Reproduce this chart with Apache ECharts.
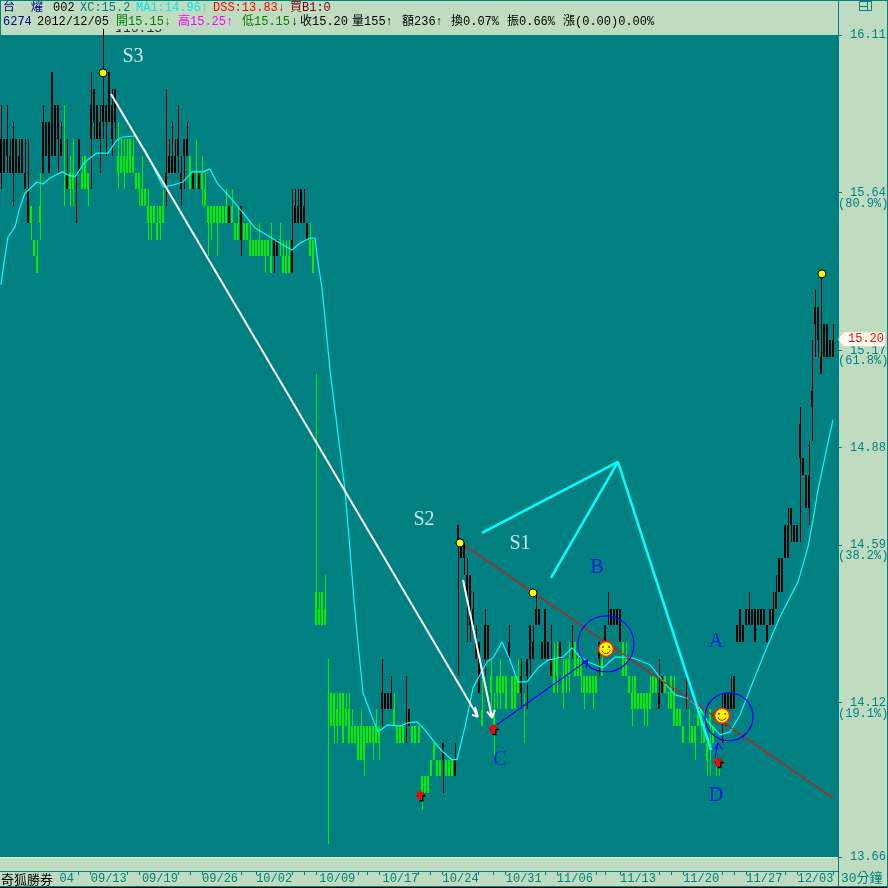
<!DOCTYPE html>
<html><head><meta charset="utf-8">
<style>html,body{margin:0;padding:0;background:#C0DCC0;}#c{width:888px;height:888px;}</style>
<script src="https://cdn.jsdelivr.net/npm/echarts@6/dist/echarts.min.js"></script>
</head><body><div id="c"></div>
<script>
// ---- price bars, each row [open, close, low, high]
const barsA = [
[15.70,15.80,15.65,15.90],[15.70,15.80,15.70,15.80],[15.75,15.80,15.70,15.90],[15.70,15.75,15.70,15.80],[15.70,15.80,15.60,15.85],[15.70,15.80,15.70,15.80],[15.70,15.75,15.70,15.80],[15.70,15.80,15.70,15.80],[15.65,15.70,15.65,15.80],[15.55,15.65,15.55,15.80],
[15.60,15.55,15.50,15.60],[15.50,15.45,15.45,15.50],[15.45,15.40,15.40,15.50],[15.60,15.55,15.50,15.70],[15.70,15.85,15.70,15.90],[15.75,15.85,15.75,15.85],[15.70,15.85,15.70,15.85],[15.75,16.00,15.75,16.00],[15.75,15.90,15.75,15.90],[15.80,15.90,15.70,15.90],
[15.75,15.80,15.75,15.85],[15.651,15.65,15.60,15.90],[15.65,15.70,15.65,15.80],[15.70,15.65,15.60,15.75],[15.70,15.65,15.60,15.80],[15.60,15.601,15.55,15.70],[15.70,15.80,15.70,15.80],[15.70,15.65,15.65,15.75],[15.75,15.65,15.65,15.75],[15.70,15.65,15.60,15.70],
[15.80,15.90,15.65,16.00],[15.85,15.95,15.80,15.95],[15.80,15.90,15.80,15.90],[15.80,15.85,15.70,15.90],[15.85,15.90,15.80,16.15],[15.85,15.90,15.75,15.90],[15.85,16.00,15.85,16.00],[15.80,15.90,15.75,15.95],[15.85,15.95,15.80,15.95],[15.75,15.70,15.65,15.85]];
const barsB = [
[15.75,15.70,15.70,15.80],[15.75,15.70,15.65,15.80],[15.75,15.70,15.70,15.80],[15.80,15.70,15.70,15.80],[15.75,15.70,15.70,15.80],[15.70,15.65,15.65,15.70],[15.70,15.65,15.60,15.70],[15.65,15.60,15.60,15.75],[15.65,15.60,15.60,15.65],[15.60,15.55,15.50,15.65],
[15.60,15.55,15.50,15.60],[15.60,15.55,15.55,15.60],[15.55,15.50,15.50,15.60],[15.60,15.55,15.50,15.60],[15.60,15.55,15.55,15.65],[15.65,15.70,15.60,15.95],[15.70,15.75,15.70,15.80],[15.70,15.75,15.70,15.85],[15.70,15.75,15.70,15.80],[15.75,15.80,15.70,15.90],
[15.65,15.70,15.60,15.75],[15.75,15.80,15.65,15.80],[15.75,15.80,15.75,15.85],[15.75,15.65,15.65,15.75],[15.65,15.70,15.65,15.70],[15.701,15.70,15.65,15.80],[15.65,15.70,15.65,15.70],[15.70,15.65,15.60,15.75],[15.65,15.60,15.60,15.70],[15.60,15.55,15.45,15.60],
[15.60,15.55,15.50,15.60],[15.60,15.55,15.55,15.60],[15.60,15.55,15.45,15.60],[15.60,15.55,15.55,15.60],[15.60,15.55,15.55,15.60],[15.60,15.55,15.55,15.65],[15.55,15.60,15.55,15.60],[15.60,15.55,15.55,15.65],[15.55,15.50,15.50,15.55],[15.55,15.50,15.50,15.60]];
const barsC = [
[15.50,15.60,15.45,15.60],[15.55,15.50,15.50,15.55],[15.55,15.50,15.50,15.55],[15.50,15.45,15.45,15.55],[15.50,15.45,15.45,15.50],[15.50,15.45,15.45,15.50],[15.50,15.45,15.45,15.55],[15.50,15.45,15.45,15.50],[15.50,15.45,15.40,15.50],[15.50,15.45,15.45,15.50],
[15.45,15.40,15.40,15.55],[15.45,15.50,15.40,15.50],[15.45,15.50,15.45,15.50],[15.501,15.50,15.45,15.55],[15.45,15.40,15.40,15.50],[15.45,15.40,15.40,15.50],[15.45,15.40,15.40,15.50],[15.40,15.50,15.40,15.65],[15.55,15.60,15.55,15.65],[15.55,15.60,15.55,15.65],
[15.55,15.65,15.55,15.65],[15.55,15.60,15.55,15.65],[15.50,15.55,15.50,15.55],[15.50,15.45,15.45,15.55],[15.50,15.40,15.40,15.50],[14.45,14.35,14.35,15.10],[14.40,14.35,14.35,14.45],[14.45,14.35,14.35,14.45],[14.40,14.35,14.35,14.50],[14.251,14.25,13.70,14.25],
[14.15,14.05,14.05,14.15],[14.15,14.05,14.00,14.15],[14.10,14.05,14.00,14.15],[14.15,14.05,14.05,14.15],[14.15,14.00,14.00,14.15],[14.10,14.05,14.05,14.15],[14.10,14.00,14.00,14.15],[14.05,14.00,14.00,14.10],[14.05,14.00,14.00,14.05],[14.05,13.95,13.95,14.05]];
const barsD = [
[14.05,13.95,13.95,14.10],[14.05,13.95,13.90,14.05],[14.05,14.00,14.00,14.05],[14.05,14.00,14.00,14.05],[14.05,14.00,13.95,14.05],[14.05,14.00,14.00,14.10],[14.05,14.00,13.95,14.05],[14.10,14.15,14.05,14.25],[14.10,14.15,14.10,14.15],[14.10,14.15,14.10,14.15],
[14.10,14.15,14.10,14.20],[14.10,14.05,14.05,14.15],[14.05,14.00,14.00,14.05],[14.05,14.00,14.00,14.05],[14.05,14.00,14.00,14.05],[14.05,14.051,14.00,14.20],[14.05,14.10,14.05,14.10],[14.05,14.00,14.00,14.05],[14.05,14.00,14.00,14.05],[14.05,14.00,14.00,14.05],
[13.90,13.85,13.80,13.90],[13.90,13.85,13.85,13.90],[13.90,13.85,13.85,13.90],[13.95,13.90,13.90,13.95],[14.00,13.95,13.95,14.00],[13.95,13.90,13.90,13.95],[13.95,13.90,13.90,13.95],[13.95,14.00,13.85,14.00],[13.95,13.90,13.90,13.95],[13.95,13.90,13.90,13.95],
[13.95,13.90,13.90,13.95],[13.90,13.95,13.90,14.00],[14.60,14.65,14.20,14.65],[14.55,14.60,14.55,14.60],[14.55,14.60,14.50,14.60],[14.45,14.50,14.30,14.55],[14.35,14.50,14.30,14.50],[14.35,14.40,14.35,14.45],[14.25,14.30,14.25,14.35],[14.15,14.30,14.15,14.30]];
const barsE = [
[14.10,14.05,14.05,14.20],[14.25,14.35,14.20,14.40],[14.25,14.35,14.25,14.35],[14.20,14.15,14.10,14.25],[14.10,14.05,13.95,14.15],[14.20,14.15,14.10,14.20],[14.20,14.15,14.10,14.25],[14.20,14.15,14.15,14.20],[14.20,14.10,14.10,14.20],[14.25,14.30,14.25,14.35],
[14.20,14.10,14.10,14.20],[14.20,14.10,14.10,14.20],[14.20,14.15,14.15,14.25],[14.15,14.20,14.10,14.25],[14.101,14.10,14.00,14.15],[14.20,14.25,14.10,14.25],[14.25,14.35,14.20,14.35],[14.25,14.30,14.25,14.35],[14.35,14.40,14.35,14.45],[14.35,14.40,14.35,14.40],
[14.25,14.30,14.25,14.30],[14.25,14.40,14.25,14.40],[14.25,14.30,14.25,14.30],[14.20,14.25,14.20,14.35],[14.25,14.15,14.15,14.30],[14.25,14.20,14.15,14.30],[14.25,14.30,14.25,14.30],[14.20,14.15,14.10,14.25],[14.25,14.20,14.15,14.25],[14.25,14.20,14.15,14.30],
[14.30,14.301,14.25,14.35],[14.30,14.20,14.20,14.30],[14.25,14.20,14.20,14.30],[14.25,14.20,14.15,14.25],[14.20,14.15,14.10,14.20],[14.20,14.15,14.15,14.20],[14.20,14.15,14.15,14.20],[14.20,14.15,14.10,14.20],[14.20,14.15,14.15,14.20],[14.25,14.30,14.20,14.30]];
const barsF = [
[14.25,14.20,14.20,14.30],[14.30,14.35,14.30,14.35],[14.35,14.351,14.35,14.45],[14.35,14.40,14.35,14.40],[14.35,14.40,14.35,14.40],[14.35,14.40,14.35,14.40],[14.30,14.40,14.30,14.40],[14.30,14.20,14.20,14.30],[14.25,14.20,14.20,14.30],[14.20,14.15,14.15,14.20],
[14.15,14.10,14.05,14.20],[14.20,14.10,14.10,14.20],[14.15,14.10,14.10,14.15],[14.15,14.10,14.10,14.15],[14.15,14.10,14.05,14.15],[14.15,14.10,14.05,14.15],[14.15,14.10,14.10,14.20],[14.20,14.15,14.15,14.20],[14.20,14.15,14.15,14.20],[14.10,14.15,14.10,14.25],
[14.15,14.20,14.15,14.20],[14.20,14.15,14.15,14.20],[14.151,14.15,14.10,14.15],[14.20,14.10,14.10,14.20],[14.15,14.05,14.05,14.20],[14.10,14.05,14.05,14.10],[14.10,14.05,14.05,14.10],[14.05,14.00,14.00,14.05],[14.10,14.101,14.10,14.20],[14.051,14.05,14.00,14.10],
[14.05,14.00,14.00,14.05],[14.05,14.00,13.95,14.05],[14.10,14.05,14.05,14.10],[14.10,14.05,14.00,14.10],[14.05,14.00,14.00,14.10],[14.00,13.95,13.90,14.00],[14.10,14.05,13.90,14.10],[14.05,14.00,14.00,14.05],[13.951,13.95,13.90,13.95],[13.951,13.95,13.90,13.95]];
const barsG = [
[14.00,14.001,14.00,14.15],[14.10,14.15,14.05,14.15],[14.10,14.15,14.10,14.15],[14.10,14.15,14.10,14.20],[14.10,14.20,14.10,14.20],[14.30,14.35,14.30,14.35],[14.30,14.40,14.30,14.40],[14.30,14.35,14.30,14.35],[14.35,14.40,14.35,14.40],[14.35,14.40,14.35,14.45],
[14.35,14.40,14.35,14.40],[14.30,14.40,14.30,14.40],[14.35,14.40,14.35,14.40],[14.35,14.40,14.35,14.40],[14.35,14.40,14.35,14.40],[14.30,14.35,14.30,14.35],[14.35,14.40,14.35,14.40],[14.35,14.40,14.35,14.45],[14.40,14.45,14.40,14.50],[14.45,14.55,14.45,14.55],
[14.45,14.55,14.45,14.55],[14.55,14.65,14.55,14.65],[14.55,14.65,14.55,14.70],[14.65,14.70,14.60,14.70],[14.60,14.65,14.60,14.65],[14.60,14.65,14.60,14.65],[14.85,14.95,14.60,15.00],[14.80,14.85,14.80,14.85],[14.70,14.80,14.70,14.80],[14.70,14.80,14.65,14.90],
[15.00,15.05,14.90,15.20],[15.25,15.30,15.15,15.35],[15.20,15.30,15.15,15.30],[15.10,15.15,15.10,15.40],[15.15,15.25,15.15,15.25],[15.15,15.25,15.15,15.25],[15.15,15.20,15.15,15.20],[15.15,15.20,15.15,15.25],null];

// ---- moving average: position along the session axis, price
const maPos = [1,4,8,15,20,25,37,43,50,62,68,75,85,97,108,117,123,135,145,158,163,173,183,192,203,210,217,230,243,255,270,283,292,300,310,315,318,322,330,345,350,354,358,363,372,378,388,400,408,417,425,435,443,452,457,465,473,487,493,502,510,518,527,538,548,563,572,580,590,603,615,627,633,650,662,675,687,700,708,720,730,740,755,767,780,798,808,813,818,827,833];
const maPrice = [15.365,15.431,15.508,15.538,15.597,15.639,15.672,15.666,15.684,15.702,15.693,15.687,15.732,15.758,15.758,15.797,15.806,15.809,15.767,15.687,15.657,15.663,15.672,15.702,15.702,15.711,15.669,15.627,15.58,15.535,15.508,15.484,15.469,15.49,15.505,15.505,15.431,15.356,15.112,14.754,14.575,14.426,14.298,14.149,14.078,14.033,14.054,14.05,14.06,14.063,14.039,14.0,13.973,13.95,13.95,14.048,14.164,14.242,14.253,14.301,14.247,14.182,14.182,14.224,14.247,14.256,14.283,14.256,14.239,14.224,14.256,14.256,14.253,14.233,14.188,14.143,14.134,14.104,14.063,14.024,14.033,14.084,14.197,14.286,14.376,14.48,14.584,14.665,14.754,14.882,14.963];

// ---- hand-drawn annotations: [session position, price]
const whiteArrowLong = [[111,15.934],[478,14.078],[472,14.084],[478,14.078],[475,14.107]];
const whiteArrowShort = [[463,14.486],[492,14.075],[487,14.093],[492,14.075],[495,14.098]];
const cyanZigzag = [[482,14.626],[618,14.838],[711,13.979]];
const cyanBranch = [[551,14.492],[618,14.838]];
const redTrend = [[461,14.596],[833,13.836]];
const blueArrow = [[497,14.054],[588,14.247],[582,14.24],[588,14.247],[586,14.224]];
const blueSmallArrow = [[715,13.955],[718,14.0],[715,13.982],[718,14.0],[722,13.982]];
const pivotDots = [[103,15.997],[460,14.596],[533,14.447],[822,15.398]];
const smileys = [[606,14.28],[722,14.081]];
const buyArrows = [[420,13.845],[493,14.042],[718,13.944]];
const blueRings = [[606,14.295],[729,14.078]];
const whiteNotes = ['S3','S2','S1'];
const whiteNotePts = [[133,16.044],[424,14.665],[520,14.593]];
const blueNotes = ['A','B','C','D'];
const blueNotePts = [[716,14.301],[597,14.522],[500,13.95],[716,13.842]];
const highNote = ['↘16.15'];
const highNotePts = [[136,16.13]];
const lastPrice = 15.20;

// ---- axes
const priceTicks = [16.11,15.64,15.17,14.88,14.59,14.12,13.66];
const ratioTicks = [15.606,15.139,14.557,14.086];
const ratioLabels = ['(80.9%)','(61.8%)','(38.2%)','(19.1%)'];
const dateLabels = ['04','09/13','09/19','09/26','10/02','10/09','10/17','10/24','10/31','11/06','11/13','11/20','11/27','12/03'];
const dateBars = [22,36,53,73,91,112,133,153,174,191,212,233,254,271];
const tickBars = [26,30,42,46,59,63,67,80,85,97,101,105,119,122,126,139,143,147,159,164,168,181,185,198,201,206,219,223,227,240,244,248,261,265,277];

// ---- header texts
const info1 = ['台','燿','002','XC:15.2','MA1:14.96↑','DSS:13.83↓','買B1:0'];
const info2 = ['6274','2012/12/05','開15.15↓','高15.25↑','低15.15','↓','收15.20','量155↑','額236↑','換0.07%','振0.66%','漲(0.00)0.00%'];
const brand = '奇狐勝券';
const period = '30分鐘';

// ---- styling (positions and colours only, no values)
const info1X = [3,31,53,80,136,213,290];
const info1C = ['#000080','#000080','#000','#008080','#00E8E8','#f00','#800000'];
const info2X = [3,37,116,178,242,291,300,352,402,451,507,563];
const info2C = ['#000080','#000','#008000','#f0f','#008000','#000','#000','#000','#000','#000','#000','#000'];
const PANEL='#C0DCC0', TEAL='#008080', LIME='#00F000', MONO='"Liberation Mono","Noto Sans CJK TC",monospace', SERIF='"Liberation Serif","DejaVu Serif",serif';

const rows = [...barsA,...barsB,...barsC,...barsD,...barsE,...barsF,...barsG];
const candle = rows.map((r,i)=>r?[i,...r]:null).filter(Boolean);
const dateByBar = {}; dateBars.forEach((b,i)=>dateByBar[b]=dateLabels[i]);
const tickSet = new Set(tickBars);
const ratioByVal = {}; ratioTicks.forEach((v,i)=>ratioByVal[v]=ratioLabels[i]);
const ma = maPos.map((p,i)=>[p,maPrice[i]]);

function lineS(data,color,width,type){
  return {type:'line',xAxisIndex:1,yAxisIndex:0,data,showSymbol:false,symbol:'none',clip:false,silent:true,z:5,
    animation:false,lineStyle:{color,width,type:type||'solid'}};
}
function noteS(texts,pts,color,font,size,align){
  return {type:'scatter',xAxisIndex:1,yAxisIndex:0,symbolSize:0,clip:false,silent:true,z:7,
    data:pts.map((p,i)=>({value:p,name:texts[i]})),
    label:{show:true,position:'inside',formatter:'{b}',color,fontFamily:font,fontSize:size,align:align||'center',verticalAlign:'middle'}};
}
function txt(t,x,y,c,size,font){return {type:'text',z:101,x,y,silent:true,style:{text:t,fill:c,font:(size||12)+'px '+(font||MONO),textVerticalAlign:'middle'}};}
function rect(x,y,w,h,f,z){return {type:'rect',z:z||100,silent:true,shape:{x,y,width:w,height:h},style:{fill:f}};}

const graphics = [
  rect(0,1,838,28,PANEL,100),
  rect(0,0,888,1,TEAL,102), rect(0,0,1,35,TEAL,102), rect(838,0,1,35,TEAL,102),
  rect(838,857,1,30,TEAL,102), rect(0,886,888,1,TEAL,102), rect(0,887,888,1,'#000',102), rect(887,0,1,888,TEAL,102),
  {type:'rect',z:103,silent:true,shape:{x:859.5,y:1.5,width:12,height:9},style:{fill:'none',stroke:TEAL,lineWidth:1}},
  {type:'line',z:103,silent:true,shape:{x1:859,y1:6.5,x2:867,y2:6.5},style:{stroke:TEAL}},
  {type:'line',z:103,silent:true,shape:{x1:867.5,y1:1,x2:867.5,y2:11},style:{stroke:TEAL}},
  txt(brand,1,879,'#000',13,'"Noto Sans CJK TC"'),
  txt(period,841,879,TEAL,13,MONO)
];
info1.forEach((t,i)=>graphics.push(txt(t,info1X[i],8,info1C[i])));
info2.forEach((t,i)=>graphics.push(txt(t,info2X[i],22,info2C[i])));

const option = {
  animation:false,
  backgroundColor:PANEL,
  grid:{left:-1,top:35,width:839,height:822,show:true,backgroundColor:TEAL,borderWidth:0,containLabel:false,outerBoundsMode:'none'},
  xAxis:[
    {type:'category',data:rows.map((_,i)=>'b'+i),position:'bottom',offset:14,
      axisLine:{onZero:false,lineStyle:{color:TEAL,width:1}},
      axisTick:{show:true,length:4,alignWithLabel:true,interval:(i)=>tickSet.has(i),lineStyle:{color:TEAL}},
      axisLabel:{interval:0,margin:2,color:TEAL,fontFamily:MONO,fontSize:12,hideOverlap:false,formatter:(v,i)=>dateByBar[i]||''},
      splitLine:{show:false}},
    {type:'value',min:-1,max:838,position:'bottom',
      axisLine:{show:true,onZero:false,lineStyle:{color:'#E8F0E8',type:[2,2],width:1}},
      axisTick:{show:false},axisLabel:{show:false},splitLine:{show:false}}
  ],
  yAxis:[
    {type:'value',min:13.66,max:16.11,position:'right',
      axisLine:{show:true,onZero:false,lineStyle:{color:TEAL}},
      axisTick:{show:true,length:4,customValues:priceTicks,lineStyle:{color:TEAL}},
      axisLabel:{margin:12,color:TEAL,fontFamily:MONO,fontSize:12,customValues:priceTicks,formatter:v=>v.toFixed(2)},
      splitLine:{show:false}},
    {type:'value',min:13.66,max:16.11,position:'right',
      axisLine:{show:false,onZero:false},axisTick:{show:false},
      axisLabel:{margin:0,color:TEAL,fontFamily:MONO,fontSize:12,customValues:ratioTicks,formatter:v=>ratioByVal[v]||''},
      splitLine:{show:false}}
  ],
  graphic:{elements:graphics},
  series:[
    {type:'custom',xAxisIndex:0,yAxisIndex:0,data:candle,encode:{x:0,y:[1,2,3,4]},clip:false,silent:true,z:2,
      renderItem:(p,api)=>{
        const i=api.value(0),o=api.value(1),c=api.value(2),l=api.value(3),h=api.value(4);
        const col=c>o?'#000':LIME;
        const top=api.coord([i,h]),low=api.coord([i,l]),a=api.coord([i,Math.max(o,c)]),b=api.coord([i,Math.min(o,c)]);
        const x=Math.round(top[0]);
        const kids=[{type:'rect',shape:{x:x,y:Math.round(top[1]),width:1,height:Math.round(low[1])-Math.round(top[1])},style:{fill:col}}];
        const bh=Math.round(b[1])-Math.round(a[1]);
        if(bh>0) kids.push({type:'rect',shape:{x:x-1,y:Math.round(a[1]),width:2,height:bh},style:{fill:col}});
        return {type:'group',children:kids};
      }},
    lineS(ma,'#00ffff',1.2),
    lineS(redTrend,'#f00',1.3,[4,1]),
    lineS(blueArrow,'#0000ff',1.2),
    lineS(blueSmallArrow,'#0000ff',1.2),
    lineS(whiteArrowLong,'#fff',2),
    lineS(whiteArrowShort,'#fff',2),
    lineS(cyanZigzag,'#00ffff',2.5),
    lineS(cyanBranch,'#00ffff',2.5),
    {type:'scatter',xAxisIndex:1,yAxisIndex:0,data:[blueRings[0]],symbolSize:56,clip:false,silent:true,z:6,
      itemStyle:{color:'rgba(0,0,0,0)',borderColor:'#0000ff',borderWidth:1.2,opacity:1}},
    {type:'scatter',xAxisIndex:1,yAxisIndex:0,data:[blueRings[1]],symbolSize:48,clip:false,silent:true,z:6,
      itemStyle:{color:'rgba(0,0,0,0)',borderColor:'#0000ff',borderWidth:1.2,opacity:1}},
    {type:'scatter',xAxisIndex:1,yAxisIndex:0,data:pivotDots,symbolSize:8,clip:false,silent:true,z:8,
      itemStyle:{color:'#ffff00',borderColor:'#000',borderWidth:1,opacity:1}},
    {type:'scatter',xAxisIndex:1,yAxisIndex:0,data:buyArrows,symbol:'path://M5,0 L10,5 L7,5 L7,10 L3,10 L3,5 L0,5 Z',symbolSize:10,clip:false,silent:true,z:8,
      itemStyle:{color:'#f00',opacity:1,shadowColor:'#000',shadowBlur:0,shadowOffsetX:1.5,shadowOffsetY:1.5}},
    {type:'custom',xAxisIndex:1,yAxisIndex:0,data:smileys,clip:false,silent:true,z:9,
      renderItem:(p,api)=>{const c=api.coord([api.value(0),api.value(1)]);
        return {type:'group',x:c[0],y:c[1],children:[
          {type:'circle',shape:{cx:0,cy:0,r:7.5},style:{fill:'#ffff00',stroke:'#ff2000',lineWidth:1.5}},
          {type:'circle',shape:{cx:-3,cy:-2,r:1},style:{fill:'#d00000'}},
          {type:'circle',shape:{cx:3,cy:-2,r:1},style:{fill:'#d00000'}},
          {type:'arc',shape:{cx:0,cy:0,r:4.5,startAngle:0.3,endAngle:2.84},style:{fill:'none',stroke:'#d00000',lineWidth:1}}
        ]};}},
    noteS(whiteNotes,whiteNotePts,'#fff',SERIF,20),
    noteS(blueNotes,blueNotePts,'#0000ff',SERIF,20),
    {type:'scatter',xAxisIndex:1,yAxisIndex:0,symbolSize:0,clip:false,silent:true,z:3,
      data:highNotePts.map((p,i)=>({value:p,name:highNote[i]})),
      label:{show:true,position:'inside',formatter:'{b}',color:'#000',fontFamily:MONO,fontSize:13}},
    {type:'custom',xAxisIndex:1,yAxisIndex:0,data:[[838,lastPrice]],clip:false,silent:true,z:20,
      renderItem:(p,api)=>{const c=api.coord([api.value(0),api.value(1)]);
        return {type:'group',x:c[0],y:c[1],children:[
          {type:'polygon',shape:{points:[[0,-1],[6,-8],[47,-8],[47,6],[6,6]]},style:{fill:'#FFFBF0'}},
          {type:'text',style:{x:46,y:-1,text:api.value(1).toFixed(2),fill:'#f00',font:'12px '+MONO,textAlign:'right',textVerticalAlign:'middle'}}
        ]};}}
  ]
};
const chart = echarts.init(document.getElementById('c'),null,{renderer:'canvas',width:888,height:888});
chart.setOption(option);
</script></body></html>
